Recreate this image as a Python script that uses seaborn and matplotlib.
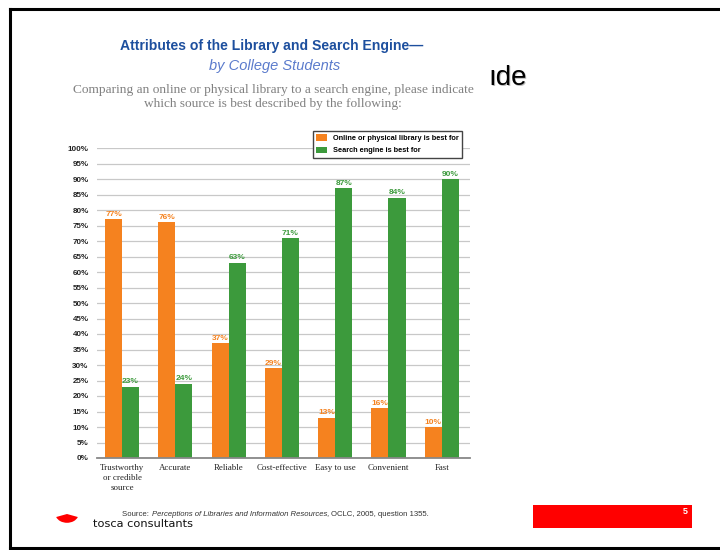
import pandas as pd
import matplotlib.pyplot as plt
import matplotlib.patches as mpatches
import seaborn as sns

attributes = ["Trustworthy\nor credible\nsource", "Accurate", "Reliable", "Cost-effective",
              "Easy to use", "Convenient", "Fast"]
library_pct = [77, 76, 37, 29, 13, 16, 10]
search_pct = [23, 24, 63, 71, 87, 84, 90]
series_names = ["Online or physical library is best for", "Search engine is best for"]
ytick_vals = list(range(0, 101, 5))

orange = "#f5821f"
green = "#3c9a3c"

df = pd.DataFrame({
    "attribute": attributes * 2,
    "pct": library_pct + search_pct,
    "source": [series_names[0]] * len(attributes) + [series_names[1]] * len(attributes),
})

W, H = 720, 550
fig = plt.figure(figsize=(7.2, 5.5), dpi=100)


def fx(x):
    return x / W


def fy(y):
    return 1 - y / H


# slide frame
fig.add_artist(plt.Line2D([fx(10), fx(10)], [fy(9), fy(548)], color="black", lw=2.2))
fig.add_artist(plt.Line2D([fx(10), fx(722)], [fy(9), fy(9)], color="black", lw=2.2))
fig.add_artist(plt.Line2D([fx(10), fx(722)], [fy(548), fy(548)], color="black", lw=2.2))

# leftover slide title peeking out behind the picture
fig.text(fx(489), fy(79), "ıde", fontsize=20, color="#bbbbbb", va="center", ha="left",
         family="Liberation Sans")
fig.text(fx(488), fy(78), "ıde", fontsize=20, color="black", va="center", ha="left",
         family="Liberation Sans")

# chart titles
fig.text(fx(272), fy(46), "Attributes of the Library and Search Engine—", ha="center", va="center",
         fontsize=10.1, fontweight="bold", color="#1d4f9e", family="Liberation Sans")
fig.text(fx(275), fy(66), "by College Students", ha="center", va="center",
         fontsize=10.5, style="italic", color="#5b7bcc", family="Liberation Sans")
fig.text(fx(273), fy(90), "Comparing an online or physical library to a search engine, please indicate",
         ha="center", va="center", fontsize=9.6, color="#808080", family="Liberation Serif")
fig.text(fx(273), fy(104), "which source is best described by the following:",
         ha="center", va="center", fontsize=9.6, color="#808080", family="Liberation Serif")

# bar chart
ax = fig.add_axes([fx(97), fy(458), fx(470 - 97), (458 - 148) / H])
sns.barplot(data=df, x="attribute", y="pct", hue="source", palette=[orange, green],
            width=0.64, gap=0, saturation=1, ax=ax, legend=True)
ax.set_ylim(0, 100)
ax.set_xlim(-0.47, 6.53)
ax.set_yticks(ytick_vals)
ax.set_yticklabels([f"{v}%" for v in ytick_vals], fontsize=5.8, fontweight="bold",
                   family="Liberation Sans", color="#222222")
ax.tick_params(axis="y", length=0, pad=6)
ax.tick_params(axis="x", length=0, pad=4)
for lab in ax.get_xticklabels():
    lab.set_fontsize(6.4)
    lab.set_family("Liberation Serif")
    lab.set_color("#222222")
    lab.set_linespacing(1.4)
ax.set_xlabel("")
ax.set_ylabel("")
ax.yaxis.grid(True, color="#c8c8c8", lw=0.9)
ax.set_axisbelow(True)
for s in ["top", "right", "left"]:
    ax.spines[s].set_visible(False)
ax.spines["bottom"].set_color("#888888")
ax.spines["bottom"].set_linewidth(1.3)

for cont, col in zip(ax.containers, [orange, green]):
    ax.bar_label(cont, fmt="%d%%", color=col, fontsize=6, fontweight="bold",
                 family="Liberation Sans", padding=1)

handles, labels = ax.get_legend_handles_labels()
ax.legend(handles, labels, loc="upper left", bbox_to_anchor=(fx(309), fy(127)),
          bbox_transform=fig.transFigure, frameon=True, fancybox=False,
          edgecolor="#444444", framealpha=1, handlelength=1.4, handleheight=1.0,
          borderpad=0.5, labelspacing=0.6,
          prop={"family": "Liberation Sans", "weight": "bold", "size": 5.3})

# source line
fig.text(fx(122), fy(514), "Source:  ", ha="left", va="center", fontsize=5.6,
         color="#333333", family="Liberation Sans")
fig.text(fx(152), fy(514), "Perceptions of Libraries and Information Resources,", ha="left",
         va="center", fontsize=5.6, style="italic", color="#333333", family="Liberation Sans")
fig.text(fx(331), fy(514), "OCLC, 2005, question 1355.", ha="left", va="center",
         fontsize=5.6, color="#333333", family="Liberation Sans")

# footer logo & company
fig.add_artist(mpatches.Wedge((fx(67), fy(514)), 0.016, 200, 340, facecolor="red",
                              edgecolor="none", transform=fig.transFigure))
fig.text(fx(93), fy(524), "tosca consultants", ha="left", va="center", fontsize=8.2,
         color="#111111", family="DejaVu Sans")

# red page-number bar
fig.add_artist(mpatches.Rectangle((fx(533), fy(528)), fx(692 - 533), (528 - 505) / H,
                                  facecolor="red", edgecolor="none", transform=fig.transFigure))
fig.text(fx(685), fy(511), "5", ha="center", va="center", fontsize=6.5, fontweight="bold",
         color="white", family="Liberation Sans")

fig.savefig("out.png", dpi=100, facecolor="white")
